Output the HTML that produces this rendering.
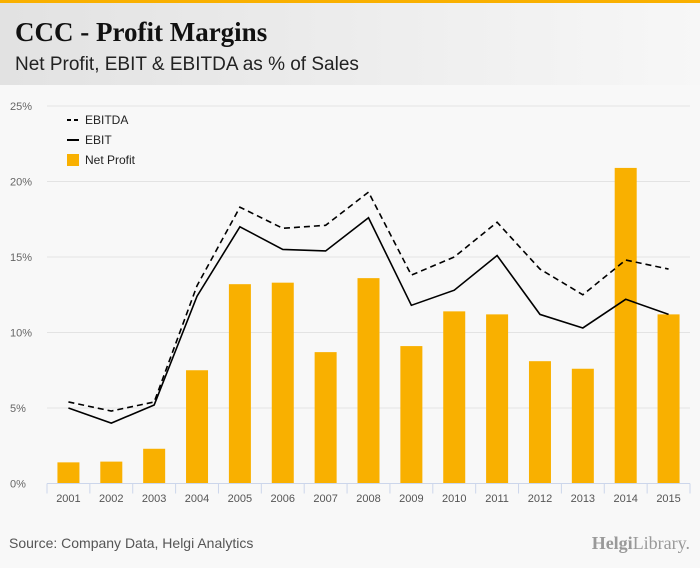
<!DOCTYPE html>
<html><head><meta charset="utf-8"><style>
body{margin:0;width:700px;height:568px;background:#f8f8f8;font-family:"Liberation Sans",sans-serif;overflow:hidden;position:relative}
#hdr{position:absolute;left:0;top:0;width:700px;height:85px;background:linear-gradient(90deg,#e2e2e2,#f7f7f7);border-top:3px solid #f9b000;box-sizing:border-box}
#title{position:absolute;left:15px;top:14px;font:bold 27px "Liberation Serif",serif;color:#111}
#sub{position:absolute;left:15px;top:51px;font-size:19px;color:#222}
#src{position:absolute;left:9px;top:535px;font-size:14px;color:#555}
#logo{position:absolute;right:10px;top:533px;font:18px "Liberation Serif",serif;color:#999}
</style></head><body>
<div id="hdr">
<div id="title">CCC - Profit Margins</div>
<div id="sub">Net Profit, EBIT &amp; EBITDA as % of Sales</div>
</div>
<svg id="chart" width="700" height="568" style="position:absolute;left:0;top:0"></svg>
<div id="src">Source: Company Data, Helgi Analytics</div>
<div id="logo"><b>Helgi</b>Library.</div>
<script>
const years=["2001","2002","2003","2004","2005","2006","2007","2008","2009","2010","2011","2012","2013","2014","2015"];
const netProfit=[1.4,1.45,2.3,7.5,13.2,13.3,8.7,13.6,9.1,11.4,11.2,8.1,7.6,20.9,11.2];
const ebit=[5.0,4.0,5.2,12.4,17.0,15.5,15.4,17.6,11.8,12.8,15.1,11.2,10.3,12.2,11.2];
const ebitda=[5.4,4.8,5.4,13.1,18.3,16.9,17.1,19.3,13.8,15.0,17.3,14.2,12.5,14.8,14.2];
const yTicks=[0,5,10,15,20,25];
const NS="http://www.w3.org/2000/svg";
const svg=document.getElementById('chart');
const L=47,R=690,Y0=483.5,Y25=106;
const y=v=>Y0-(Y0-Y25)*v/25;
const bw=(R-L)/years.length;
const x=i=>L+bw*(i+0.5);
function mk(t,a){const e=document.createElementNS(NS,t);for(const k in a)e.setAttribute(k,a[k]);svg.appendChild(e);return e;}
yTicks.forEach(t=>{
 if(t>0){const g=mk('line',{x1:L,x2:R,y1:y(t),y2:y(t),stroke:'#e3e3e3','stroke-width':1});
 
 }
 const tx=mk('text',{x:10,y:y(t)+4,'font-size':11,fill:'#666','font-family':'Liberation Sans, sans-serif'});
 tx.textContent=t+'%';
 
 
});
netProfit.forEach((v,i)=>{
 const b=mk('rect',{x:x(i)-11,y:y(v),width:22,height:Y0-y(v),fill:'#f9b000'});
 
 
});
const ax=mk('line',{x1:L,x2:R,y1:Y0,y2:Y0,stroke:'#ccd6eb','stroke-width':1});


years.forEach((yr,i)=>{
 const tk=mk('line',{x1:L+bw*i,x2:L+bw*i,y1:Y0,y2:Y0+10,stroke:'#ccd6eb'});
 
 
 const t=mk('text',{x:x(i),y:502,'text-anchor':'middle','font-size':11,fill:'#555','font-family':'Liberation Sans, sans-serif'});
 t.textContent=yr;
 
 
});
const tk2=mk('line',{x1:R,x2:R,y1:Y0,y2:Y0+10,stroke:'#ccd6eb'});


const pts=a=>a.map((v,i)=>x(i)+','+y(v)).join(' ');
const l1=mk('polyline',{points:pts(ebitda),fill:'none',stroke:'#000','stroke-width':1.6,'stroke-dasharray':'6,4'});


const l2=mk('polyline',{points:pts(ebit),fill:'none',stroke:'#000','stroke-width':1.6});


const leg=[['EBITDA','dash',120],['EBIT','line',140],['Net Profit','bar',160]];
leg.forEach(([n,k,yy])=>{
 let s;
 if(k==='bar')s=mk('rect',{x:67,y:yy-6,width:12,height:12,fill:'#f9b000'});
 else s=mk('line',{x1:67,x2:79,y1:yy,y2:yy,stroke:'#000','stroke-width':2,'stroke-dasharray':k==='dash'?'4,3':'none'});
 
 
 const t=mk('text',{x:85,y:yy+4,'font-size':12,fill:'#222','font-family':'Liberation Sans, sans-serif'});
 t.textContent=n;
 
 
});
</script>
</body></html>
